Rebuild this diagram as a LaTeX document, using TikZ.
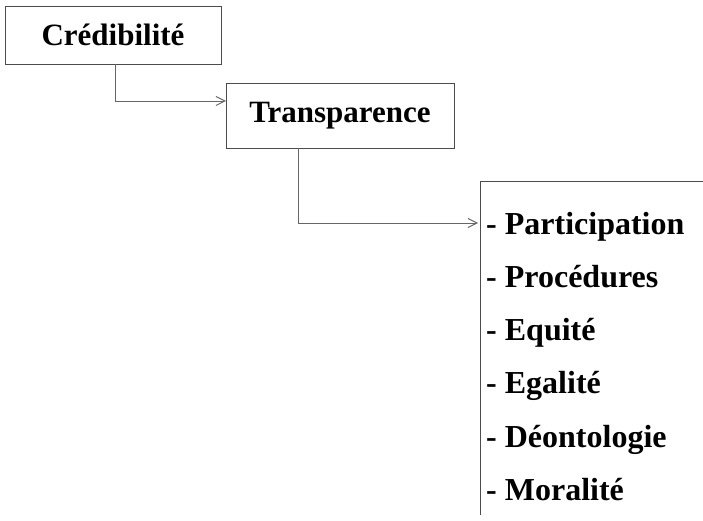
\documentclass[tikz,border=0pt]{standalone}
\usepackage{fontspec}
\setmainfont{Liberation Serif}
\usetikzlibrary{arrows.meta}
\begin{document}
\begin{tikzpicture}[x=1pt,y=-1pt,
  box/.style={draw=black!70,line width=0.8pt,inner sep=0pt,font=\fontsize{31}{37}\selectfont\bfseries},
  conn/.style={draw=black!60,line width=0.8pt,-{Straight Barb[length=9pt,width=9pt,line width=1pt]}},
  item/.style={anchor=base west,inner sep=0pt,font=\fontsize{32}{38}\selectfont\bfseries}]
\useasboundingbox (0,0) rectangle (703,521);
\node[box,minimum width=216pt,minimum height=58pt] (c) at (113,35) {Crédibilité};
\node[box,minimum width=228pt,minimum height=65pt] (t) at (340,115.5) {Transparence};
\coordinate (b3) at (480,181);
\draw[black!70,line width=0.8pt] (703,181) -- (b3) -- (480,515);
\coordinate (a1) at (226,101);
\coordinate (a2) at (478,223);
\draw[conn] (c.south -| 115,0) |- (a1);
\draw[conn] (t.south -| 298,0) |- (a2);
\node[item] (p1) at (486,234) {- Participation};
\node[item] (p2) at (486,287) {- Procédures};
\node[item] (p3) at (486,340) {- Equité};
\node[item] (p4) at (486,393) {- Egalité};
\node[item] (p5) at (486,447) {- Déontologie};
\node[item] (p6) at (486,500) {- Moralité};
\end{tikzpicture}
\end{document}
